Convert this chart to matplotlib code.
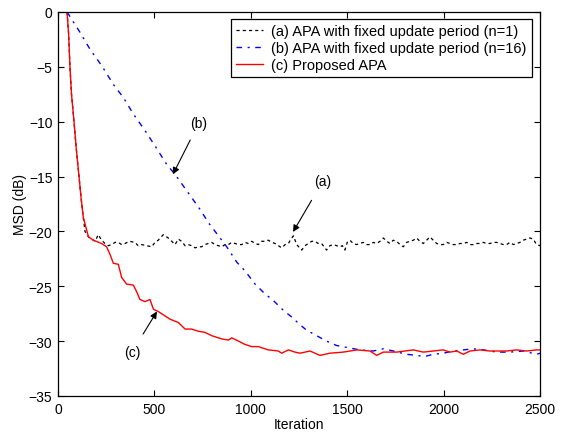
import matplotlib
matplotlib.use("Agg")
import matplotlib.pyplot as plt

plt.rcParams['font.family'] = ['Liberation Sans', 'DejaVu Sans']

# (a) APA with fixed update period (n=1)
a_x = [47, 55, 62, 70, 83, 95, 109, 120, 131, 140, 158, 175, 192, 209, 226, 244, 261, 278, 296, 313, 330, 348,
       370, 399, 416, 434, 460, 486, 503, 520, 546, 572, 590, 607, 624, 641, 659, 676, 693, 711, 728, 745,
       762, 780, 797, 814, 832, 849, 866, 884, 901, 918, 936, 953, 970, 987, 1005, 1022, 1039, 1056, 1074,
       1091, 1108, 1126, 1143, 1160, 1178, 1195, 1208, 1221, 1238, 1264, 1281, 1298, 1316, 1333, 1350, 1367,
       1380, 1393, 1410, 1428, 1445, 1462, 1475, 1488, 1500, 1514, 1531, 1549, 1566, 1583, 1600, 1618, 1635,
       1653, 1670, 1687, 1705, 1722, 1739, 1756, 1774, 1791, 1808, 1825, 1843, 1860, 1877, 1895, 1912, 1929,
       1946, 1964, 1981, 1998, 2016, 2033, 2050, 2068, 2085, 2102, 2120, 2137, 2154, 2171, 2188, 2206, 2223,
       2240, 2258, 2275, 2292, 2310, 2327, 2344, 2362, 2379, 2396, 2413, 2431, 2448, 2465, 2482, 2500]
a_y = [0.0, -2.0, -5.0, -7.5, -10.0, -12.5, -15.0, -17.0, -18.7, -20.0, -20.5, -20.7, -20.9, -20.3, -20.8, -21.1,
       -21.3, -21.2, -21.0, -21.0, -21.2, -21.1, -20.9, -21.0, -21.3, -21.2, -21.3, -21.4, -21.0, -20.8, -20.3,
       -20.6, -20.9, -21.2, -20.7, -20.9, -21.3, -21.2, -21.3, -21.5, -21.4, -21.4, -21.2, -21.1, -21.0, -21.2,
       -21.3, -21.4, -21.2, -21.2, -21.0, -21.1, -21.2, -21.2, -21.0, -21.1, -20.9, -21.1, -21.2, -20.9, -20.9,
       -20.8, -21.0, -21.1, -21.3, -21.5, -21.2, -21.1, -20.7, -20.4, -21.2, -21.7, -21.3, -21.1, -20.9, -20.9,
       -21.1, -21.1, -21.4, -21.7, -21.3, -21.2, -21.3, -21.4, -21.3, -21.7, -21.0, -20.8, -21.1, -21.2, -21.1,
       -21.0, -21.2, -21.2, -21.0, -21.1, -20.9, -20.6, -20.9, -21.1, -20.8, -20.9, -21.2, -21.4, -21.0, -20.9,
       -20.8, -20.6, -20.9, -21.1, -20.8, -20.5, -20.8, -21.1, -21.2, -21.2, -21.0, -21.1, -21.2, -21.2, -21.1,
       -21.1, -21.0, -21.2, -21.2, -21.1, -21.1, -21.0, -21.1, -21.1, -21.0, -21.0, -21.1, -21.2, -21.2, -21.0,
       -21.2, -21.1, -21.0, -20.8, -20.7, -20.6, -20.7, -21.2, -21.3]

# (b) APA with fixed update period (n=16)
b_x = [47, 114, 166, 227, 287, 339, 391, 451, 503, 564, 607, 668, 737, 780, 832, 875, 927, 970, 1022,
       1074, 1117, 1169, 1212, 1255, 1289, 1341, 1393, 1445, 1506, 1566, 1635, 1687, 1739, 1808, 1860,
       1903, 1946, 1998, 2050, 2102, 2154, 2206, 2275, 2344, 2413, 2482, 2500]
b_y = [0.0, -1.85, -3.4, -4.9, -6.6, -7.8, -9.3, -10.8, -12.2, -13.9, -14.8, -16.3, -18.0, -19.2, -20.4,
       -21.4, -22.8, -23.6, -24.8, -25.7, -26.3, -27.2, -27.8, -28.5, -29.0, -29.5, -30.0, -30.4, -30.6,
       -30.8, -30.9, -30.7, -30.9, -31.2, -31.3, -31.4, -31.2, -31.1, -30.9, -30.8, -30.7, -30.8, -31.0,
       -31.0, -30.9, -31.2, -31.1]

# (c) Proposed APA
c_x = [47, 55, 62, 70, 83, 95, 109, 120, 131, 140, 158, 184, 226, 252, 270, 287, 313, 330, 356, 391, 408,
       425, 451, 477, 495, 520, 555, 581, 624, 659, 693, 728, 762, 797, 849, 884, 901, 936, 970, 1005, 1039,
       1091, 1143, 1160, 1195, 1229, 1255, 1307, 1359, 1410, 1480, 1549, 1618, 1653, 1687, 1756, 1843, 1895,
       1946, 1998, 2033, 2068, 2102, 2137, 2188, 2240, 2327, 2379, 2431, 2482, 2500]
c_y = [0.0, -2.0, -5.0, -7.5, -10.0, -12.5, -15.0, -17.0, -18.7, -19.3, -20.5, -20.8, -21.1, -21.4, -22.1,
       -22.9, -23.0, -24.2, -24.8, -24.9, -25.5, -26.2, -26.4, -26.2, -27.1, -27.3, -27.7, -28.0, -28.3,
       -28.9, -28.9, -29.1, -29.2, -29.5, -29.8, -29.9, -29.7, -30.0, -30.3, -30.5, -30.5, -30.8, -30.9,
       -31.1, -30.8, -31.0, -31.1, -30.9, -31.3, -31.1, -31.0, -30.8, -30.9, -31.3, -31.0, -31.0, -30.8,
       -31.0, -30.9, -30.8, -31.0, -30.9, -31.2, -30.9, -30.8, -30.9, -30.9, -30.8, -30.9, -30.8, -30.8]

labels = ['(a) APA with fixed update period (n=1)',
          '(b) APA with fixed update period (n=16)',
          '(c) Proposed APA']

fig = plt.figure(figsize=(5.61, 4.39), dpi=100)
ax = fig.add_axes([0.1034, 0.0957, 0.8592, 0.8747])

ax.plot(a_x, a_y, color='black', lw=0.9, linestyle=(0, (2.5, 2.5)), label=labels[0])
ax.plot(b_x, b_y, color='blue', lw=1.0, linestyle=(0, (4, 4, 1.5, 4)), label=labels[1])
ax.plot(c_x, c_y, color='red', lw=1.0, linestyle='-', label=labels[2])

ax.set_xlim(0, 2500)
ax.set_ylim(-35, 0)
ax.set_xticks([0, 500, 1000, 1500, 2000, 2500])
ax.set_yticks([-35, -30, -25, -20, -15, -10, -5, 0])
ax.tick_params(direction='in', top=True, right=True, labelsize=10, length=4.5, width=0.8, pad=4)
for s in ax.spines.values():
    s.set_linewidth(0.9)
ax.set_xlabel('Iteration', fontsize=10, labelpad=1)
ax.set_ylabel('MSD (dB)', fontsize=10, labelpad=1)

arrowprops = dict(arrowstyle='-|>', color='black', lw=0.8, mutation_scale=10)
ax.annotate('(b)', xy=(596, -14.8), xytext=(731, -10.1), fontsize=10, ha='center', va='center',
            arrowprops=dict(arrowprops, shrinkA=6, shrinkB=0))
ax.annotate('(a)', xy=(1219, -20.05), xytext=(1374, -15.4), fontsize=10, ha='center', va='center',
            arrowprops=dict(arrowprops, shrinkA=8, shrinkB=0))
ax.annotate('(c)', xy=(513, -27.3), xytext=(384, -31.0), fontsize=10, ha='center', va='center',
            arrowprops=dict(arrowprops, shrinkA=7, shrinkB=0))

leg = ax.legend(loc='upper right', bbox_to_anchor=(0.983, 0.982), borderaxespad=0, fontsize=10.5,
                fancybox=False, edgecolor='black', framealpha=1, handlelength=1.8,
                handletextpad=0.6, borderpad=0.35, labelspacing=0.2)
leg.get_frame().set_linewidth(0.9)

fig.savefig('out.png', dpi=100)
